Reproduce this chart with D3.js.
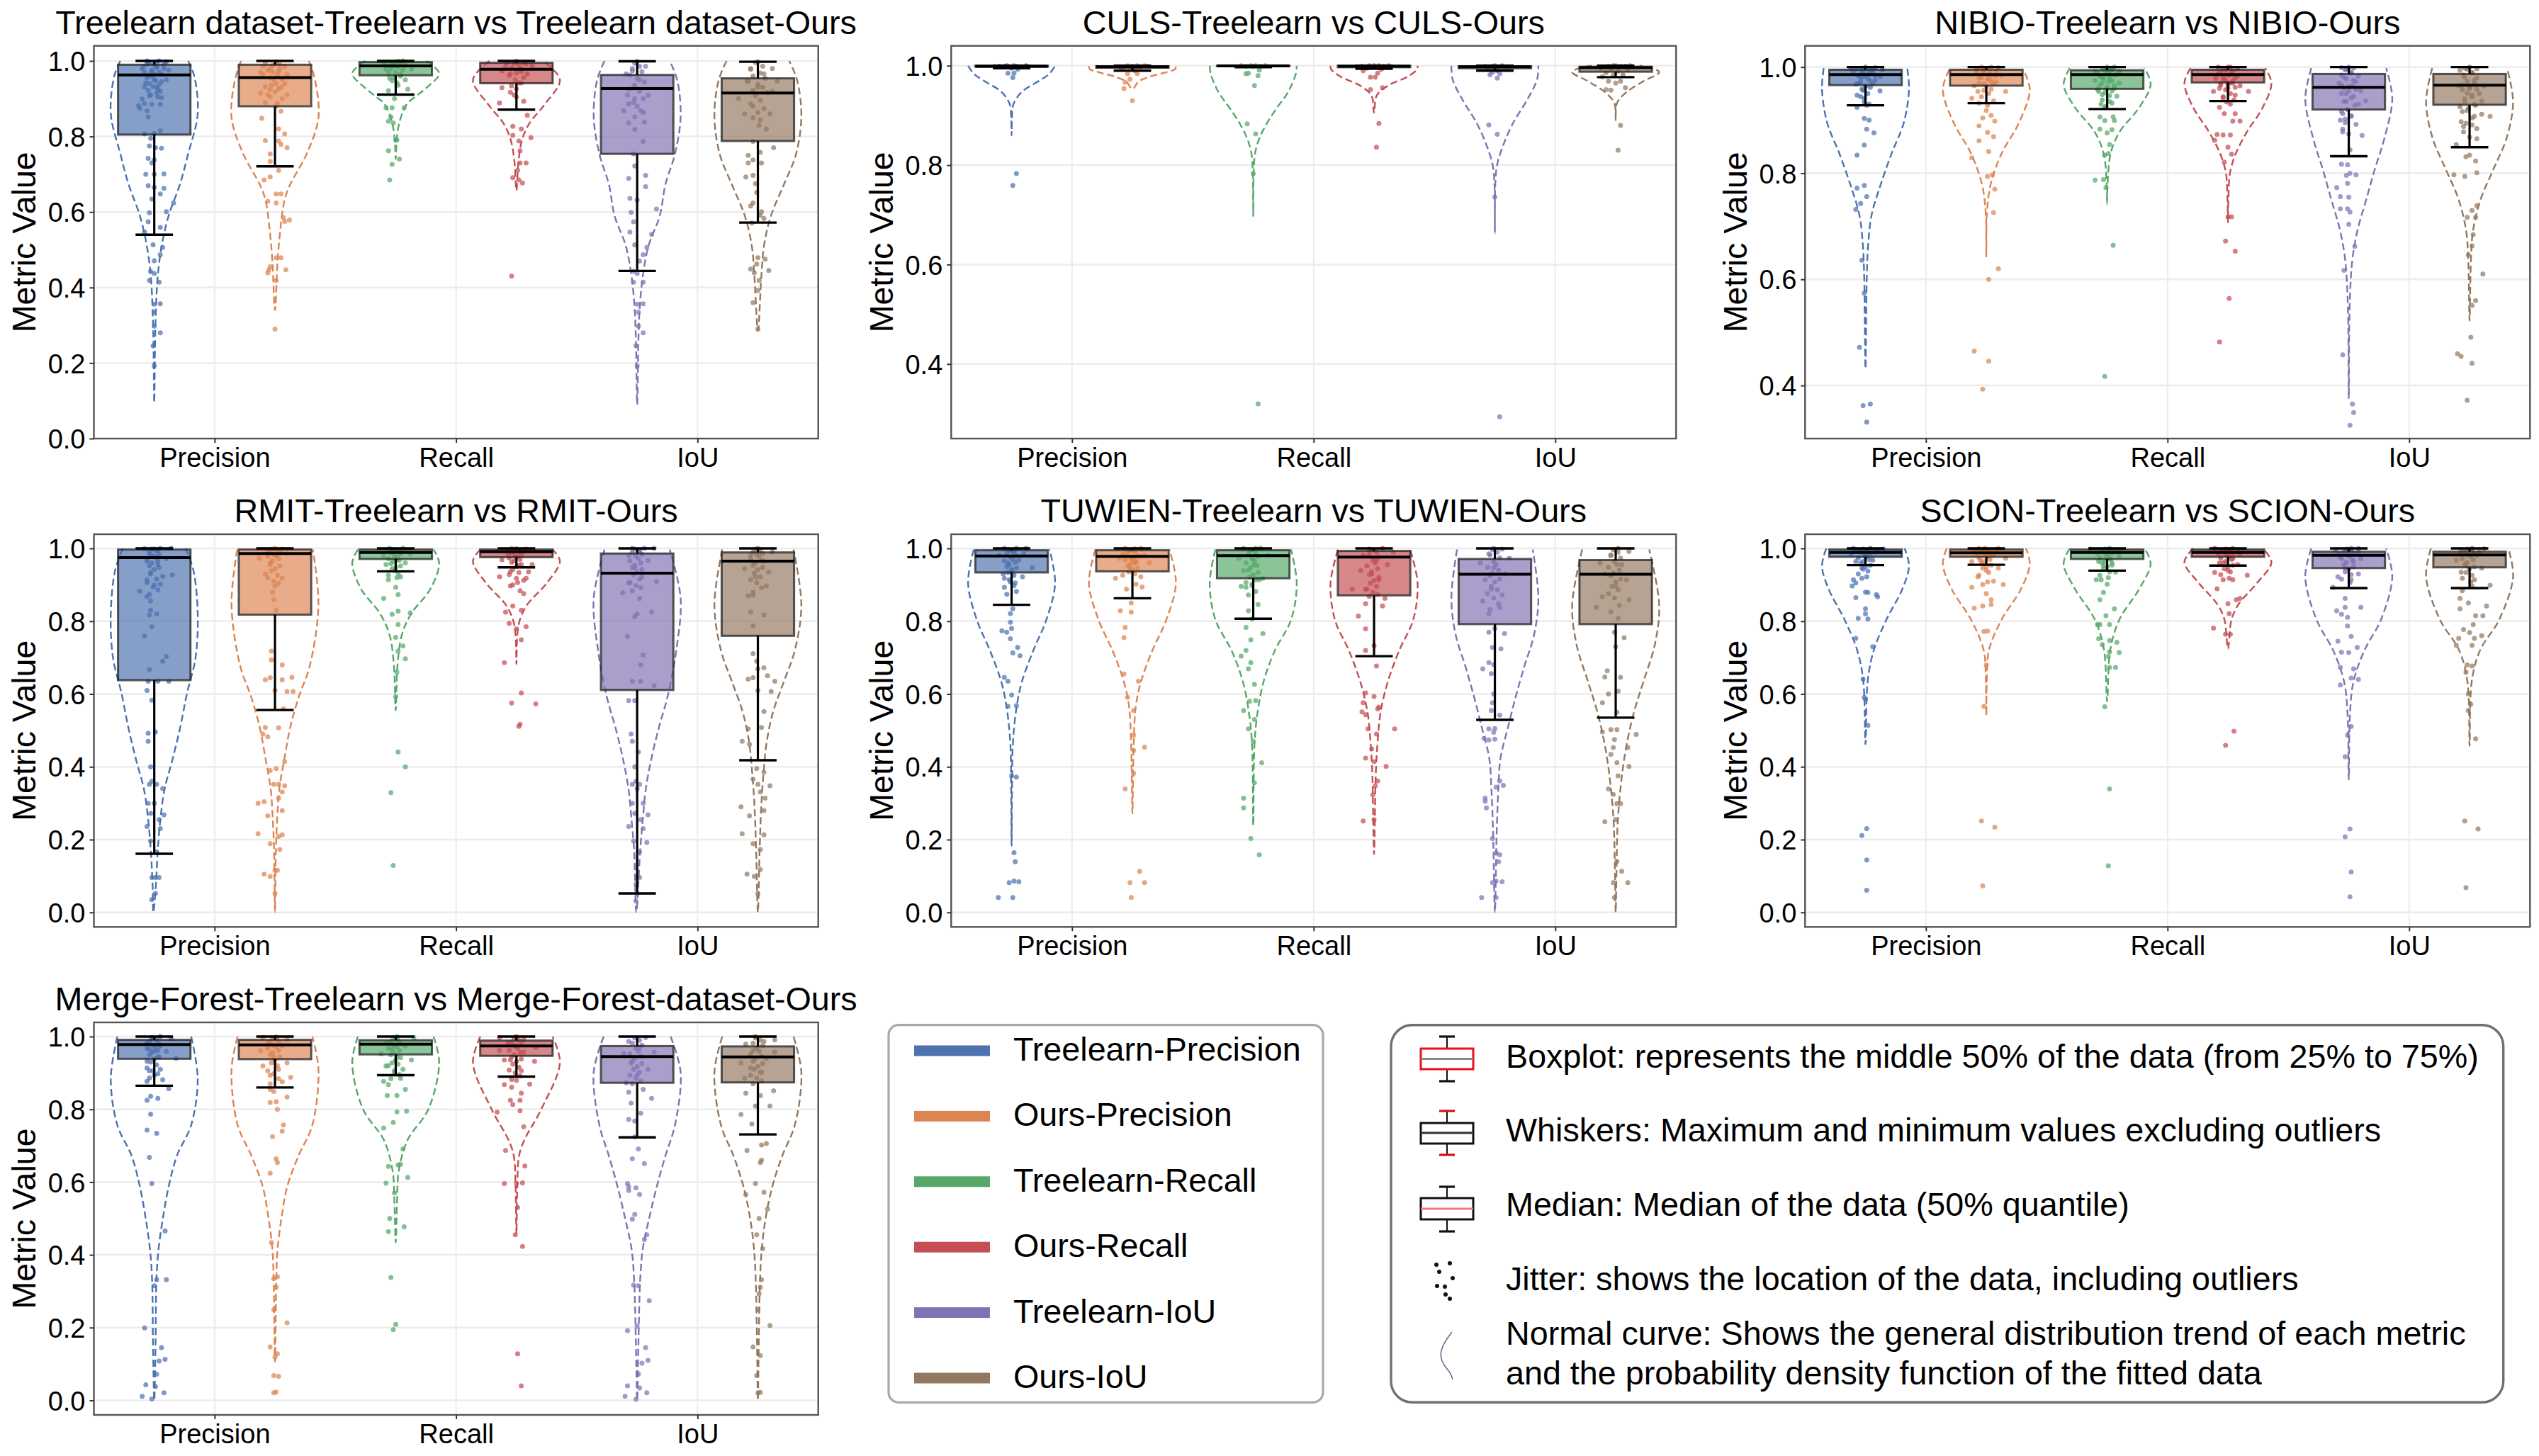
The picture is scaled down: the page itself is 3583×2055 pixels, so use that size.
<!DOCTYPE html>
<html><head><meta charset="utf-8">
<script src="https://cdn.jsdelivr.net/npm/d3@7"></script>
<style>html,body{margin:0;padding:0;background:#fff}svg{display:block}text{font-family:"Liberation Sans",Arial,sans-serif;fill:#000}</style>
</head><body><div id="c"></div>
<script>
const categories=["Precision","Recall","IoU"];
const seriesNames=["Treelearn-Precision","Ours-Precision","Treelearn-Recall","Ours-Recall","Treelearn-IoU","Ours-IoU"];
const seriesColors=["#4C72B0","#DD8452","#55A868","#C44E52","#8172B3","#937860"];
const panelTitles=["Treelearn dataset-Treelearn vs Treelearn dataset-Ours","CULS-Treelearn vs CULS-Ours","NIBIO-Treelearn vs NIBIO-Ours","RMIT-Treelearn vs RMIT-Ours","TUWIEN-Treelearn vs TUWIEN-Ours","SCION-Treelearn vs SCION-Ours","Merge-Forest-Treelearn vs Merge-Forest-dataset-Ours"];
const yDomains=[[0,1.04],[.25,1.04],[.3,1.04],[-.04,1.039],[-.04,1.039],[-.04,1.039],[-.04,1.039]];
const yTicks=[[0,.2,.4,.6,.8,1],[.4,.6,.8,1],[.4,.6,.8,1],[0,.2,.4,.6,.8,1],[0,.2,.4,.6,.8,1],[0,.2,.4,.6,.8,1],[0,.2,.4,.6,.8,1]];
// box statistics per series: whisker low, q1, median, q3, whisker high
const p1_stats=[[.54,.805,.963,.99,1],[.721,.88,.956,.99,1],[.911,.962,.987,.997,1],[.871,.941,.978,.995,1],[.444,.754,.927,.963,.999],[.572,.788,.915,.954,.998]];
const p2_stats=[[.995,.998,.999,1,1],[.99,.996,.998,.999,1],[.997,.999,.9995,1,1],[.994,.997,.999,1,1],[.99,.995,.998,.999,1],[.977,.988,.996,.998,1]];
const p3_stats=[[.928,.966,.986,.995,1],[.932,.965,.986,.995,1],[.921,.959,.986,.994,1],[.936,.971,.986,.995,1],[.832,.92,.962,.987,1],[.849,.929,.966,.987,1]];
const p4_stats=[[.161,.638,.975,.997,1],[.556,.818,.986,.997,1],[.937,.971,.989,.997,1],[.948,.976,.991,.997,1],[.052,.611,.932,.986,1],[.418,.76,.965,.989,1]];
const p5_stats=[[.845,.934,.979,.995,1],[.863,.937,.978,.995,1],[.807,.918,.98,.995,1],[.704,.871,.976,.993,1],[.529,.792,.929,.971,1],[.535,.792,.929,.968,1]];
const p6_stats=[[.954,.977,.989,.997,1],[.955,.977,.988,.997,1],[.939,.971,.989,.997,1],[.953,.977,.989,.997,1],[.891,.946,.981,.991,1],[.891,.948,.982,.991,1]];
const p7_stats=[[.865,.939,.978,.991,1],[.86,.938,.977,.991,1],[.894,.951,.979,.99,1],[.89,.947,.974,.989,1],[.723,.873,.945,.974,1],[.731,.874,.944,.973,1]];
// violin outline per series: metric value, relative half width, repeated
const p1_violin=[[1,.78,.96,.92,.86,1,.754,.78,.673,.59,.59,.33,.51,.17,.43,.08,.347,.04,.266,.02,.095,0],[1,.78,.95,.92,.85,1,.754,.73,.673,.35,.632,.22,.55,.12,.47,.06,.34,0],[1,.7,.967,1,.93,.72,.905,.45,.885,.25,.835,.08,.787,.02,.74,0],[1,.62,.95,1,.885,.65,.835,.3,.795,.14,.738,.05,.657,0],[1,.75,.95,.92,.852,1,.754,.87,.673,.65,.59,.52,.51,.26,.43,.13,.347,.06,.266,.03,.09,0],[1,.72,.95,.9,.856,1,.754,.88,.673,.6,.59,.3,.51,.14,.43,.08,.286,0]];
const p2_violin=[[1,1,.984,.87,.972,.68,.947,.23,.922,.04,.9,.01,.86,0],[.999,1,.993,.98,.987,.78,.978,.4,.968,.14,.953,0],[1,1,.984,.98,.947,.8,.916,.55,.885,.32,.854,.14,.823,.04,.786,.01,.697,0],[1,1,.993,.99,.978,.77,.96,.32,.94,.06,.91,.01,.905,0],[1,1,.972,.97,.928,.72,.885,.42,.842,.2,.8,.05,.762,.01,.663,0],[1,.55,.995,.85,.987,1,.969,.64,.947,.25,.925,.03,.89,0]];
const p3_violin=[[.998,.96,.958,1,.895,.88,.837,.6,.779,.35,.721,.14,.664,.06,.606,.03,.432,0],[.995,.85,.958,1,.895,.75,.837,.35,.779,.1,.721,.01,.643,0],[.998,.86,.967,1,.924,.74,.877,.28,.837,.08,.779,.01,.742,0],[.998,.86,.97,1,.924,.8,.877,.43,.837,.18,.802,.05,.75,.01,.707,0],[.998,.86,.941,1,.866,.82,.808,.6,.75,.4,.692,.2,.635,.08,.548,.02,.375,0],[.998,.86,.935,1,.866,.85,.808,.55,.75,.25,.692,.08,.635,.03,.522,0]];
const p4_violin=[[1,.72,.94,.9,.82,1,.7,.95,.6,.75,.51,.6,.42,.42,.34,.24,.255,.14,.17,.08,.08,.04,0,.02],[.997,.87,.846,1,.677,.8,.593,.55,.508,.35,.424,.22,.34,.1,.255,.05,.17,.02,0,0],[.997,.87,.96,1,.889,.8,.821,.36,.762,.14,.677,.04,.555,0],[.997,.83,.965,1,.905,.7,.846,.25,.804,.08,.762,.02,.682,0],[.997,.75,.863,1,.72,.9,.593,.7,.508,.5,.424,.33,.34,.2,.255,.13,.17,.07,0,.02],[.997,.82,.846,1,.72,.85,.635,.6,.551,.35,.466,.2,.382,.13,.297,.08,.17,.04,0,0]];
const p5_violin=[[.997,.87,.905,1,.804,.8,.72,.5,.635,.24,.568,.12,.466,.03,.34,.01,.183,0],[.997,.85,.905,1,.804,.78,.72,.46,.635,.2,.568,.08,.466,.03,.272,0],[.997,.87,.905,1,.804,.87,.72,.5,.635,.24,.55,.1,.466,.03,.238,0],[.997,.83,.905,1,.804,.9,.72,.58,.635,.32,.55,.15,.466,.08,.382,.04,.16,0],[.997,.87,.863,1,.762,.9,.677,.68,.593,.48,.508,.3,.424,.13,.34,.08,.213,.04,0,0],[.997,.77,.846,1,.736,.9,.635,.64,.55,.42,.466,.26,.382,.15,.255,.05,.128,.02,0,0]];
const p6_violin=[[1,.9,.952,1,.889,.85,.804,.48,.72,.19,.635,.05,.462,0],[1,.91,.958,1,.889,.8,.804,.35,.72,.06,.635,.01,.54,0],[1,.86,.958,1,.889,.74,.804,.28,.72,.07,.58,0],[1,.8,.962,1,.905,.67,.846,.24,.804,.08,.724,0],[1,.86,.922,1,.804,.74,.72,.36,.635,.11,.55,.03,.365,0],[1,.89,.922,1,.804,.68,.72,.24,.635,.05,.458,0]];
const p7_violin=[[1,.85,.885,1,.757,.85,.672,.52,.587,.33,.502,.2,.417,.1,.332,.05,.162,.03,0,0],[1,.86,.91,1,.757,.86,.672,.54,.587,.28,.502,.15,.417,.06,.332,.03,.106,0],[1,.87,.928,1,.8,.75,.715,.27,.63,.07,.545,.03,.434,0],[1,.83,.928,1,.8,.57,.715,.18,.672,.06,.587,.02,.455,0],[1,.77,.902,1,.757,.87,.672,.65,.587,.45,.502,.28,.417,.13,.332,.07,.162,.03,0,0],[1,.82,.902,1,.757,.85,.672,.56,.587,.33,.502,.18,.417,.09,.332,.05,.162,.02,0,0]];
// jitter points per series: sideways offset (hundredths of a category), metric value (percent), repeated
const p1_points=[
[0,19.3,-.5,24.6,2.5,28,0,29.8,0,33.5,0,35.6,2.5,35.7,-2,41.9,2,41.4,0,43.7,-1.5,44.3,0,47.1,2.5,48.7,3.5,50.6,-.5,51.3,2.5,55.9,-4,54.7,-2.5,57.4,5,60.1,-2,59.8,8,62.4,-1,63.4,2.5,64.8,4,66.3,-2.5,67,0,66.5,-3.5,70,0,70,4,70.1,-1,73,-2.5,74.2,0,73.8,3,76.9,.5,77,-2,77.5,-1.5,79.5,2.5,81.5,-4,80.7,0,80.8,-2.5,85.2,-3,86.8,2.5,88.5,-1,88.5,-4,88.7,-6.5,88.2,-6,87.5,-5,89.9,3,90.3,-2,90.8,-4,93.1,1,93,1.5,92.5,1,91.5,-2,94,-3,95.5,0,95,3,94.5,5,95,0,96.5,2,97,-1,97.5,-4.5,98.5,1,98.5,4,98,-2,99.5,2,100,-3,100,5,99.8,0,99,6,97.5],
[0,29,.5,41.9,-3,43.9,4.5,44.7,-2,45.5,-2.5,44.7,2.5,47.9,.5,47.9,6,57.9,3.5,58.5,4,57.5,.5,62.4,-3,62.8,.5,64.8,2.5,64.8,-4.5,68.5,-2,69.3,1.5,71,-2,73.4,5,77,2.5,77.9,-2,75.4,1.5,78.8,-4,78.9,4,80.7,1.5,82,-5.5,84.8,2.5,86.7,.5,88,-2,90.5,5,91,-6,91.5,1.5,92.5,-4,93.2,-.5,95,4,94,-5,96.5,1.5,97.3,-2,98,4,98.5,.5,99.8,-4,99.5,-6,97,2,99,-1,97],
[-2.5,68.5,-1.5,72.6,1.5,74,-3,76.2,.5,79.1,0,79,-1,83.6,-3,84,-2,85.2,3.5,87.6,-1.5,87.6,-4,87.6,-.5,90,5,92.5,-3,92.1,.5,94.2,4,95,-2.5,95.4,2,96.6,-4,97.8,6.5,97.8,-.5,98.7,3,100,-5,99.5,1,99.9,-2,99.5],
[-2,43,2.5,67.7,-1.5,69.1,1,68.5,.5,71,4,73,1.5,73,1.5,76.2,1,78.8,6,79.7,-1.5,80.3,2,82,-1.5,82.7,4.5,85.6,-7,88.9,0,90.5,3,89.3,-6,92.9,-2.5,91.7,2,94.2,4.5,96.6,-2.5,96.6,-6,97.4,6.5,98.7,0,99.9,3,99.5,-4,99.5,2,98],
[0,19.3,-.5,24.6,2.5,28,.5,29.8,.5,33.5,0,35.6,2.5,35.7,-1.5,41.4,2.5,41.4,0,43.7,-1.5,44.3,1,47,2.5,48.7,4,50.6,-1,51.3,6,54.1,-3,54.7,-1.5,57.4,8,60.8,-2.5,59.9,0,63.2,-3,63.6,3.5,66.7,-3.5,68.9,3.5,69.7,-1,72.2,-1.5,75.4,2.5,78.7,-1,81.9,-3.5,83.6,2.5,86.4,-5.5,86.8,-1,90,4.5,90.9,-3.5,92.5,1,95,-2,97.4,3.5,98.6,0,99.9,-4.5,96.6],
[0,29,-2,36,.5,41.9,0,39.2,4.5,44.5,-3,44.9,-1.5,43.9,-.5,46.2,3,47.5,0,47.9,-2.5,57.1,2.5,58.3,1,59.1,1.5,60.1,-2,62.4,-3,61.6,-.5,65.2,-1,67.5,-5,69.3,-2,69.7,1.5,73,-2,73.8,-4,73,1,75.8,-4,75,6.5,77,-2,78.7,3.5,82,-5.5,86,1,84.4,5,86,-2,88,-8,90,6,92,0,93,-4.5,94.7,8,94.7,2.5,96.6,-3,98,6,98,0,99.8]];
const p2_points=[
[2,78.3,.5,75.9,.5,97.6,-1.5,98.5,1,98.5,2.5,99.3,-3,99.9,-1,99.8,0,99.5,2,99.9,4,99.8,6,100,-2,100,-5,99.9,1,100],
[0,93,-3.5,95.4,-3,96.7,-1,97.3,2,98.4,-2,98.4,1,99,-4,99.5,3,99.5,-1,99.8,5,100,-2,100,2,100,0,99.9,-5,99.8,6,99.9],
[2,32,0,78.3,1,86.3,-2.5,88.3,.5,96,-2,98.5,-3,98.4,2.5,99.1,2,98,-1,100,1,100,3,99.9,-3,99.9,-5,100,5,100,0,99.9],
[1,83.6,2,88.4,-1.5,95.2,3.5,95.6,-1.5,97.7,.5,97.7,1.5,98.5,-4.5,99,3,99.3,-3,99.5,0,100,2,100,-2,100,4,99.9,-5,99.9,1,99.8,6,100],
[2,29.4,0,73.6,1,86.2,-2.5,88.1,1,97.5,-2,98.2,2,98.4,-1,98.7,1,99,-3,99.5,0,100,3,100,-1,99.9,5,99.8,-4,99.9],
[1,83,2,88,-2,95.1,4,95.6,-4,95.2,0,96.5,-3,96.9,2,96.9,-5.5,97.8,-1,98.1,3,98.2,-4,98.6,1,98.9,-2,99.3,5,99.2,-6,99.5,0,100,2,99.9,-3,99.9,4,99.9,6,100,-1,100]];
const p3_points=[
[.5,33.1,2,36.5,-1,36.2,-2.5,47.2,-.5,57.4,-1.5,63.6,-4,73.2,-2,74.3,.5,75.6,-3.5,77.2,-.5,77.7,-3.5,83.4,-.5,85.3,3.5,87.6,.5,88.3,1.5,90,-.5,90.3,-3.5,92.4,1.5,93,-.5,94.1,6,95.5,-1.5,95.8,-3.5,94.7,2,96.2,-4,96.8,-2,97.2,4,97.5,1,97.8,-3,98.4,6,98.2,-1,98.9,3,99,-5,99.2,2,99.6,-2,99.8,0,100,4,99.9,7,99.5,-6,99.7],
[-1.5,39.3,1,44.6,-5,46.5,1,60,5,62,3,72.6,3.5,77,2.5,79.7,.5,79.4,-6,82.9,1,84.1,-3,86.1,3,86.9,.5,87.7,-3,88.9,3.5,89.8,-1.5,90.4,2,90.9,0,91.8,-6,94.1,-3.5,95.4,8,95.4,2,95.8,-5,96.5,-1,96.8,4,97.2,1,97.6,-3,98,2,98.4,-1,98.8,6,98.5,4,99.2,-4,99.4,0,99.7,2,100,-2,100,-4,99.8,5,99.9],
[-1,41.7,2.5,66.4,-.5,77.3,-5,78.7,-1.5,78.8,.5,83.7,-1,83.4,1,85.4,0,87.6,-3,88.3,2,88.2,-1,89.9,3,89.9,-3,90.6,2.5,90.6,-1,92.4,-2.5,93,1,93.5,4,94.5,-2,94.8,2,95.5,-4,95.8,0,96,3,96.5,-2,97,5,97,-5,97.5,1,97.9,-3,98.3,3,98.5,0,98.9,-5,99.2,5,99.2,2,99.6,-2,99.8,0,100,3,100],
[-3.5,48.2,.5,56.4,3,65.3,-1,67.2,0,71.8,1.5,71.8,-1.5,82.1,1.5,83.6,0,84.9,-5.5,86.2,-2,87.2,1,87.2,-4.5,87.3,5,89.8,2,89.8,-1.5,91.2,3,91.2,-3.5,92.4,1,93,8.5,95.4,-6,95.4,3,94.7,-2,94.4,0,96,-3,96.6,5,96.5,2,97,-1,97.4,-5,97.9,3,98,0,98.5,-3,99,2,99.3,4,99.7,-2,99.8,0,100,-4,100,1,100],
[.5,32.5,2,34.9,1.5,36.5,-2.5,45.8,-2,61.7,2.5,66.2,0,70.4,.5,72.7,-3.5,73.3,-.5,73.3,0,75.5,-3.5,75.6,-.5,78.1,-5,77.3,-1,79.6,3,79.7,.5,80,-3,81.7,-.5,81.6,.5,84.4,5.5,87.1,-2.5,87.8,-1.5,89.5,-3.5,90,1,90.7,-2.5,91.2,4,93,7,93.6,-1,93.5,2,94.5,-3,95,0,95.5,5,95.5,-2,96,1.5,96.5,-4,97,3,97.3,-1,97.8,4,98.3,-3,98.5,1,99,-1.5,99.5,2,99.8,0,100,-3,99.9],
[-1,37.2,1,44.2,-5,46,-3.5,45.5,.5,49.1,2.5,56,1,55.1,5.5,61,-.5,64.6,1,66.3,1.5,68.4,-1,71.7,2.5,71.7,1,73,3,73.9,3,80.1,-6.5,79.7,-2,79.4,2.5,82.3,0,83.4,-1.5,83.1,-5.5,85.4,3,86.5,-2.5,88.8,1,89.1,2,90.7,8.5,90.7,5,91.1,-3.5,89.7,-1,91.8,-4,92.5,2,93,5,93.6,-2,94,1,94.7,4,95,-3,95.7,0,96,-4.5,96.5,2,96.9,6,96.5,-1,97.3,3,98,-2.5,98.5,1,99,-4,99.4,3,99.7,0,100,-2,99.8]];
const p4_points=[
[.5,5.2,-1,3.5,.5,9.6,-1,9.6,2,9.6,1,16.6,-1.5,19.6,2.5,23,-3,23.6,2,25.5,4,26.8,-1.5,27.2,0,30,-2.5,30,3.5,34,1,35.2,-2,35.2,-1,36,-1.5,40,-2.5,47,-2.5,49.2,.5,49.6,-1,58.3,-3,61,-2.5,63.5,1.5,63.5,6,63.5,-2,66.7,3.5,69,5,70.3,-4,75.9,-1,78.5,-2,81.7,1,82,-1.5,83,-1.5,85.6,-3,86.7,-6,88.3,0,90,2.5,90.2,-3,91.4,7.5,92.7,3.5,92.3,-1.5,93,1.5,95.6,-3,96.4,5,97.2,-2,98.5,1.5,99.3,-4,99.9,2.5,100,7,100,0,99.8],
[0,5.2,1,11.6,-4.5,10.5,-2,9.9,0,11.6,2,17.3,-2,18.9,3,21.3,-7,21.6,1.5,20.9,-3,26.5,3,28,-7,30,-4.5,30.4,1.5,31.4,3,33.1,4,34.8,-.5,35.2,1.5,35.2,-2,39,.5,39.5,4,41.4,-3,48.3,-5,49,1.5,50.7,-4,50.8,3.5,55.9,-4,63.9,-2,64.5,7,64.6,3,63.9,0,61,5,60.7,7.5,60.7,3,68,-1.5,69.4,-1.5,71.8,.5,83,-.5,85.9,0,89.7,-4,93,3,91.9,-2,95.6,-6.5,97.3,.5,98.2,5,98.6,-3,99.2,3,99.8,0,100],
[-1,12.9,-2,32.9,4,40,1,44.1,0,59.3,.5,66,4,69.7,3,73.2,1,71.8,0,75.6,1,79.1,6,82.3,1,82.8,-1.5,81.9,-5,86.3,1,87.3,0,89.3,-3,91.4,2,92.2,-.5,93.9,-4,95.6,4,96,.5,96.8,-5,98.1,6,98.5,-.5,99.2,3,100,-2.5,100,-1,99.7,1.5,99.4],
[1,51.1,1.5,51.7,8,57.3,-2,57.5,2,60.3,-5,68.6,2,74.9,0,77.9,4,78.5,-3,79.4,-4.5,82.5,2,83,-1.5,84.2,3,87.6,1.5,88.4,-2.5,89.7,4,91.8,0,91.8,-7,92.2,5,93.6,-2.5,93.6,1,95.3,-6,96.9,6.5,95.6,-3.5,98.5,3,99.2,0,99.9,4,99.8,-2,99.9],
[0,5.2,-.5,3.1,0,9.6,1,9.6,-.5,7.8,1,16.6,-1.5,19.6,4,19.2,2.5,23,-3.5,23.6,1.5,25.5,4.5,26.8,-1,27.2,-2,30,2.5,30,0,34,-2,35.2,1,35.2,-.5,36,-1,40,.5,44.1,-2,47,-2.5,49,-1,58.2,-3.5,58.2,1.5,63.5,-2,63.5,7,62.3,1.5,68,2.5,70.7,-4,75.8,-1,81.2,6,82.5,0,82,1,86.3,-6,87.8,8,90.9,-3.5,90.5,2,92.2,-1,94.6,4.5,96.7,-3.5,98,1,99.3,7,100,-2,100,3,100],
[0,5.2,1,11.8,-4.5,10.5,-1.5,9.9,1,17.3,-2,18.9,2.5,21.3,-6.5,21.6,-3.5,26.5,2.5,28,-7,29,3,31.4,1,33.1,5,34.8,0,35.2,2.5,38.5,-.5,39.5,-2,36.6,-3.5,46.2,-6.5,47,-4,50.4,1.5,50.8,2.5,55.2,0,61,5.5,60.7,2.5,67.2,7,63.5,-2,64.5,-4,64.1,4,65,0,66.9,-2,71.1,-.5,69,-2,78.7,2.5,81.7,-3,82.5,-2,87.1,-4,87,3.5,89.7,-1,92.2,4.5,93.5,-5.5,94.4,2.5,96.5,-3,98.1,6,99,0,100]];
const p5_points=[
[-5.5,4.1,.5,4.1,-1,8.2,1,8.6,3,8.4,1.5,13.9,1,16.4,2,37.2,0,37.5,-1.5,56.6,2,56.8,0,59.7,-3,64.6,-1.5,63.5,3.5,70.5,.5,71.3,2.5,72.8,-.5,75.2,-4,77.4,-2,77,0,78,-.5,79.7,-.5,82.1,.5,83.4,2,88.2,-3,89.3,1.5,90.5,-1,91.4,4.5,92.2,-3.5,93,0,93.9,8.5,94.7,-1.5,96,3,96.8,-5,98.1,5,98.5,0,99.3,6,100,-3,100,2,100],
[-.5,4.1,-1,8.2,5,8.2,3,11.3,-3,33.9,.5,38.2,5,45.4,.5,44.5,.5,48.7,.5,55.5,-2,59.1,2.5,63.5,-3.5,65.5,-3.5,75.5,-3,78.3,-.5,82.5,-5,82.9,-.5,85,-2.5,88.8,4,89.4,1.5,90.2,-7,91.8,3.5,92.2,-4,92.6,-1,94.7,7,96,1.5,96.4,-5.5,97.3,5,98.1,-1,99.3,3.5,100,-3,100,1,99.9],
[2.5,15.8,-1,20.3,-4,28.7,-4,31.4,.5,35.6,3.5,41.1,0,47,-2,50.4,.5,53,-4,55.5,-1.5,58,1,58.2,.5,62.7,-2,66.9,-1,68.6,-5,70.4,-3,72,-1,74.9,4,76.6,-3,78.3,-.5,80.6,2,84.6,-2,82.9,-3,89.3,-.5,90.2,2.5,91.4,-5,89.6,4,91.8,-4,93.9,.5,95.6,-6,97.3,6,98.1,-1.5,99.3,3,100,-4,100,1,100],
[0,25.5,-4.5,25.1,-.5,32.3,1.5,36.1,.5,34.8,5,40.1,-3.5,42.4,0,41.4,-1,44.9,8.5,50.4,-2.5,50.4,1,49,2,56.4,-3.5,54.3,1.5,55.9,-4.5,57.6,-5,55.1,0,59.3,-3.5,60.3,1,67.7,-3.5,72,0,73.3,-3.5,77.9,-6.5,81.4,3.5,84.2,-3.5,84.8,4.5,86.3,-3.5,88.8,-9,88.8,2,91.4,-1,93,-5.5,93.9,5.5,95.6,1,96.8,-4.5,98.1,8,99,-2,99.8,3.5,100],
[-5.5,4.1,.5,4.1,-1,8.2,.5,8.6,3,8.4,1.5,13.9,.5,16.4,2,15.8,-1,20.3,-3.5,28.7,-4,30.5,-4,31.4,3.5,34.9,2,36.1,.5,34.4,-2.5,47.4,-4.5,47.8,0,47.6,-.5,49.5,-2.5,50.4,0,50.5,2,54.2,-1.5,55.5,-1,57.6,-.5,60,-1.5,65.6,-5,66.9,-2.5,68.6,-.5,68.1,2.5,72.4,-1,72.8,4,76.6,-2.5,77,0,78,-2.5,82.1,2,83.8,-5,85.5,3,87.2,-1.5,88.8,-4,91.4,4,93,-.5,94.7,-6,96,6,97.3,-2.5,98.5,3,99.8,-.5,100],
[-.5,4.1,5,8.2,-1,8.2,2.5,11.3,.5,14,0,25.5,-4.5,24.9,.5,29.9,2,29.9,-1,32.4,-3,33.9,1,37.5,5.5,40.1,.5,41.1,-2,43.4,-1,45.3,5,45.3,8.5,48.9,-5.5,49.6,-2,50.2,.5,50.2,-.5,47.5,-5.5,57.6,-3,60,1,60.8,-4.5,64.7,-3.5,66.4,2,64.6,.5,55,0,73,3.5,75.5,-.5,77,-8,83.8,1,80.8,5.5,85.9,-5.5,86.7,0,89.7,4.5,91.4,-4.5,93,2.5,95.6,-6.5,96,-2,98,5.5,99.2,1,100]];
const p6_points=[
[.5,6.1,.5,14.4,-1.5,21.1,.5,23,1,51.4,0,58.6,-.5,59.1,-1,64.1,3,73,-4,75.3,-3,80.8,1,80.6,0,82,0,83.4,5,86.7,4.5,87.3,-4,86.5,0,88,1,87.9,-5.5,89.7,-4,90.5,-1.5,91.8,-5,91.4,-1,94.3,-4,96.4,3,96.8,0,97.7,-6,98.5,5,99.2,-2.5,99.2,2,100,-5,100,0,99.5,7.5,99.8],
[-1.5,7.3,3.5,23.4,-2,25.1,-1,56.6,0,68,-1,77.2,.5,77.3,-5,83.6,-1.5,84.2,2,84.6,2,85.9,0,87.6,-6,89.3,7,90.1,-1.5,90.1,3,91,-3.5,92.2,5,94.6,0,93.9,-6,96.4,8,97.3,-2.5,96.8,3,98.1,-5,99.4,-.5,100,5,100,1,99.5,-3,100],
[.5,12.8,1,33.9,-1,56.5,1,67.3,3.5,67.3,5,71.4,1,71.6,.5,70.3,4,74.2,-3.5,75.2,1,74.7,-2,73.6,-3,79.1,-4,79.1,1,79.1,-.5,81.5,3,83.4,-3,85.9,-1.5,87.9,0,90.2,-4.5,91.4,-2.5,91.4,3.5,93.5,-1.5,95.2,-3.5,96.4,2,96,5,98.1,-2.5,99.4,1,100,-7,99.8],
[-1,45.9,2.5,49.8,-6,78.1,1,76.4,-1,76.4,.5,82.1,0,84.8,3.5,85.9,5,86.3,-4.5,88.9,-2,91.4,2,91.4,8,92.6,-5.5,93.4,0,93.9,4,95.6,-3.5,96,2,97.3,5,98.5,-2.5,99.4,2,100,-5.5,100,0,99.7,-1,98.8],
[.5,4.3,1,11.1,-1.5,20.8,.5,22.9,-1.5,42.8,-.5,48.7,1,51.1,-3.5,62.5,1,64.4,4,64,2,66.9,-3.5,67.3,-3,71.5,0,71.4,3.5,72.8,1,75.8,-4.5,74.5,-.5,78.7,-5,82.9,-3,81.9,-.5,81.1,5,83.8,-1.5,83.8,-1.5,86.3,-6.5,89.3,1,91.4,-4.5,92.2,4,93,-1.5,94.6,2,96.3,-3.5,97.6,5,97.2,0,99.4,-5.5,99.4,4,100,1,100],
[-1.5,6.8,3.5,22.9,-2,25.1,2.5,47.7,-.5,55.5,.5,57.2,-.5,60,-1.5,66,-1,68,1,67.7,-5.5,73.4,1,73.4,-4.5,75.3,2,75.3,5,76,0,76.9,-2.5,77.7,1.5,79.1,-4,83.4,2.5,81.5,5.5,81.5,7,84.2,-.5,85,-4,86.3,8.5,89.9,-3,88.4,1,89.7,2,91.4,-3.5,93.5,5,94.6,-1.5,95.4,-5.5,96.8,3,98.1,-3.5,99.4,1,100,6,99.9]];
const p7_points=[
[-1,.4,-5,1.1,4,2.1,.5,3.8,-3.5,4.3,1,7.2,2,10.8,4.5,11.3,3,14.5,-4,19.9,5,33.2,1,33.2,0,31.5,4.5,46.6,-1,59.6,-2,66.8,1,73.4,-3,74.3,-1.5,78.7,-1.5,83.6,1.5,83,-3,82.5,6,85.7,-3,87.7,3.5,88.1,0,89.4,-2,90.6,2.5,91,9,94,-3,93.2,1.5,94.4,5,95.9,-2,96.5,2.5,97.4,-3,98.2,7,99.4,-1,99.7,2.5,100,0,96],
[-.5,2.1,.5,2.3,1.5,6.6,-.5,6.8,1,12.8,0,11.9,-2,14.7,5,21.3,-.5,24.9,.5,31.1,1,34,-.5,33.5,-1.5,43.4,-2,62.4,1,65.4,.5,66.4,3,74,-1,72.5,3.5,75.7,1,80,.5,82.1,-2,81.9,5,83.4,-.5,84.9,-2,85.5,6.5,88.8,3,87.6,-2,89.4,1.5,91,-5,91.9,5,92.8,-.5,94.5,-6,96.1,3,97.4,-3,98.2,5,99.1,.5,99.9,-5,99.7],
[0,20.9,-1,19.4,-2,33.8,3.5,47.7,-3,46.4,-2.5,50,-.5,57,5,61.3,-4,59.7,1,64.7,-3,64.3,2,64.9,3,69.1,-1,76.4,-5,74.9,.5,79.3,4.5,79.5,-3.5,83.8,.5,83.8,4,85.5,-3,86.8,2,88.5,-5,87.7,-.5,90.2,3,91,-4,91.9,6.5,93.6,.5,94.5,-6,95.3,-1.5,96.6,4,97.4,-4,98.3,.5,100,7.5,99.7],
[2,4,.5,12.8,2.5,42.3,-.5,45.5,.5,53,3.5,64.4,-5,59.6,0,59.6,2.5,59.8,-4.5,68.7,3,75.2,1.5,79.6,-8,79.2,-1.5,81.3,1.5,82.5,-2.5,82.5,2,84.4,-5,86.8,5.5,86.9,-2,86.1,0,88,2,90.6,-5,93.6,7.5,93.2,-2.5,93.6,3,95.7,-7,96.2,0,97.4,8,97,-3.5,98.3,3,99.1,0,100,-7,99.7],
[-.5,.3,-5,1.1,4,2.1,1,3.4,-4,4,.5,7.2,2,10.2,4.5,11,3.5,14.5,-4,19.2,0,20.4,5,27.4,-1.5,31.7,.5,31.5,4,45.5,3,44.2,-1,51.1,-2,49.8,1,56.6,-3.5,57.7,-.5,58.4,-4,59.6,-3.5,58.7,3,65.1,-2,66.4,.5,69.1,-1,72.4,-1,76.8,-3.5,77.2,1.5,78.9,-2.5,81.7,6,83,-3.5,84.7,2.5,85.5,-4.5,87.3,0,89.4,4.5,91,-2.5,92.8,-5.5,95.3,7,95.7,1,97,-3.5,98.7,3.5,99.7],
[1,2.2,0,2.1,-.5,6.8,1,12.3,-2,14.7,5,20.6,0,24.9,.5,29.3,1,31.1,1.5,33.2,2,41.7,-.5,45.5,.5,50,4,52.6,2.5,57.2,-5,56.6,-1,59.6,1,65.4,1.5,66,-4.5,68.7,1.5,70.2,3.5,70.6,-2.5,76,-7,78.6,-1,80.9,5,80.9,-5,84.4,1,83.8,6.5,85.1,-5.5,88.5,1.5,90.2,-3,91.4,7,95.7,-7,92.8,3.5,94,-2,96.2,-5,97.9,2.5,98.7,7,99.1,-1,100]];
// further jitter points in the crowded upper part of each violin, same layout
const p1_dense=[
[-3,99.2,1,98.2,-1,97,3,96.5,-2.5,96.2,.5,94.8,2,93.7,-.5,93.2,1.5,90.5,-2.5,92.2,4,99,-5,98,-3.5,94.2,2.5,92,-1,96,1,99.7,-1.5,91,-4,97],
[-1,98.8,2,97.8,-3,97.5,1,96.2,-2,95.5,3,95.2,.5,94,-1.5,93.6,2.5,93,0,91.8,-3,91,3,90,-4,89,1,88.8,5,96.4,-5,98.6,.5,99.4,-2,92.4],
[-1,99.2,1,98.4,-2,98,3,97.6,0,97,-3,96.8,2,96,-.5,95.6,-1.5,94.8,1,93.6,0,99.6,-4,98.8,4,98.8,2,99.4],
[-1,99.4,1,98.8,-2,98.2,2,97.2,0,96.8,-3,96.2,3,95.6,-.5,95,1,94.2,-2,93.4,0,92.6,-1,91,4,99.2,-4.5,98.4],
[-1,99.4,1,98.6,-2,98,2,97.2,-3,96.2,0,95.4,3,94.4,-1,93.6,-2,92.8,1,92,-4,91,2.5,90,-1.5,89,0,88,-3.5,88.6,1.5,86.8,-1,85.2,3,83.8],
[-1,99.6,2,98.6,-3,97.8,1,96.8,-2,96,3,95.4,-4,94.6,0,93.8,2,93,-2,92.2,4,91.6,-1,90.8,1,89.6,-3,88.6,2.5,87.4,0,86.4,-2,85,.5,83]];
const p3_dense=[
[-1,99.4,1,98.6,-2,98,2,97.4,-3,97,0,96.4,3,96.9,-1,95.6,1,95,-2,94.4,-.5,93.4,.5,92.8,4,98.4,-4,99.6,1.5,99.2,-1.5,99,3,99.6,-.5,98.2],
[-1,99.4,1,98.6,-2,98,2,97.4,-3,97,0,96.4,3,96.9,-1,95.6,1,95,-2,94.4,3,93.6,-3,93.2,.5,92.8,4,98.4,-4,99.2,1.5,99,-1.5,98.9,.5,97.8],
[-1,99.4,1,98.6,-2,98,2,97.4,-3,96.6,0,96.2,3,96,-1,95.2,1,94.6,-2,93.8,2,93.2,-.5,92.6,4,98.6,-4,99,1.5,99.4,-1.5,97.8,.5,97.2,-3.5,95.4],
[-1,99.4,1,98.6,-2,98,2,97.4,-3,97,0,96.7,3,96.2,-1,95.7,1,95,-2,94.2,2.5,93.8,-.5,93.4,4,98.4,-4,98.8,1.5,99.2,-1.5,97.6,.5,97,-3.5,96],
[-1,99.6,1,98.9,-2,98.1,2,97.5,-3,96.6,0,96.3,3,95.8,-1,95,1,94.2,-2,93.5,2.5,92.8,-.5,92,-3,91.6,1,90.8,-1.5,90.2,3,89.2,-2.5,88.3,0,87.4],
[-1,99.6,1,98.9,-2,98.1,2,97.5,-3,96.6,0,96.2,3,95.8,-1,95.1,1,94.4,-2,93.4,2.5,92.8,-.5,92.2,-3,91.6,1,90.4,-1.5,89.4,3,88.4,-2.5,87.8,0,86.8]];
const p4_dense=[
[-1,99.8,1,99.4,-2,99,2,98.4,-.5,98,.5,97.6,-3,97,1.5,96.6,-1,96,-2,95.2,2,94.8,0,94.2,-1.5,93.4,1,91.6,-3,90.6,-.5,89.4,1.5,88.6,-2,87.4],
[-1,99.8,1,99.6,-2,99,2,98.8,-.5,98.4,.5,98,-3,97.8,1.5,97.2,-1,96.6,-2,96,2,95.2,0,94.4,-1.5,93.8,1,92.6,-3,92,-.5,91,1.5,90.4,-1,88],
[-1,99.6,1,99.2,-2,98.8,2,98.4,-.5,98,.5,97.6,-3,97.2,1.5,96.8,-1,96.4,-2,95.8,2,95.2,0,94.8,-1.5,94.4,1,93.2,-3,92.6,.5,92],
[-1,99.6,1,99.2,-2,98.8,2,98.4,-.5,98,.5,97.8,-3,97.4,1.5,97,-1,96.6,-2,96.2,2,95.6,0,95,-1.5,94.2,1,93.4,-3,92.8,.5,90.6,3,91.2,-1.5,90],
[-1,99.8,1,99.4,-2,99,2,98.4,-.5,97.8,.5,97.2,-3,96.6,1.5,96,-1,95.4,-2,94.8,2,94.2,0,93.4,-1.5,92.8,1,91.6,-3,90.6,-.5,89.8,1.5,89.2,-2,88.4],
[-1,99.8,1,99.4,-2,99,2,98.6,-.5,98.2,.5,97.8,-3,97.2,1.5,96.6,-1,96,-2,95.4,2,94.8,0,94.2,-1.5,93.2,1,92.2,-3,91.4,-.5,90.6,1.5,89.2,-2,88]];
const p5_dense=[
[-1,99.6,1,99,-2,98.6,2,98,-.5,97.6,.5,97,-3,96.6,1.5,96.2,-1,95.6,-2,95,2,94.6,0,94.2,-1.5,93.4,1,92.6,-3,91.8,-.5,90.8,1,89.8,-2,87.4],
[-1,99.6,1,99,-2,98.6,2,98,-.5,97.6,.5,97.2,-3,96.8,1.5,96.2,-1,95.6,-2,95.2,2,94.6,0,94.2,-1.5,93.6,1,93,3,97.8,-4,98.4,-.5,97,.5,96],
[-1,99.6,1,99,-2,98.4,2,97.8,-.5,97.2,.5,96.6,-3,96,1.5,95.4,-1,94.8,-2,94,2,93.4,0,92.8,-1.5,92.2,1,91.4,-3,90.6,-.5,89.8,1,88.2,-2,87.2],
[-1,99.6,1,99,-2,98.4,2,97.6,-.5,96.8,.5,96,-3,95.2,1.5,94.4,-1,93.6,-2,92.8,2,92,0,91.2,-1.5,90.4,1,89.6,-3,88.8,-.5,88,1.5,87.4,-2,86.8],
[-1,99.6,1,99,-2,98.2,2,97.4,-.5,96.4,.5,95.6,-3,94.8,1.5,94,-1,93.2,-2,92.4,2,91.6,0,90.8,-1.5,89.6,1,88.6,-3,87.6,-.5,86.4,1.5,84.8,-2,83.2],
[-1,99.6,1,99,-2,98.2,2,97.4,-.5,96.4,.5,95.6,-3,94.8,1.5,94,-1,93.2,-2,92.4,2,91.6,0,90.8,-1.5,89.6,1,88.6,-3,87.6,-.5,86.4,1.5,84.4,-2,82.6]];
const p6_dense=[
[-1,99.8,1,99.4,-2,99,2,98.6,-.5,98.2,.5,97.8,-3,97.4,1.5,97,-1,96.4,-2,96,2,95.4,0,95,-1.5,94.6,1,93.8,-3,93,.5,92.2,-4,99.6,4,99],
[-1,99.8,1,99.4,-2,99,2,98.6,-.5,98.2,.5,97.8,-3,97.4,1.5,97,-1,96.4,-2,96,2,95.4,0,95,-1.5,94.6,1,93.4,-3,92.6,.5,90.8,4,99,-4,98.6],
[-1,99.8,1,99.4,-2,99,2,98.6,-.5,98.2,.5,97.8,-3,97.4,1.5,97,-1,96.4,-2,96,2,95.4,0,95,-1.5,94.4,1,93.6,-3,92.6,.5,92,4,99,-4,98.6],
[-1,99.8,1,99.4,-2,99,2,98.6,-.5,98.2,.5,97.8,-3,97.4,1.5,97,-1,96.4,-2,96,2,95.4,0,95,-1.5,94.4,1,93.6,-3,92.8,.5,91.8,4,99,-4,98.6],
[-1,99.8,1,99.4,-2,99,2,98.6,-.5,98.2,.5,97.8,-3,97.2,1.5,96.8,-1,96.2,-2,95.6,2,95,0,94.4,-1.5,93.6,1,92.8,-3,91.6,.5,90.6,4,99,-4,98.4],
[-1,99.8,1,99.4,-2,99,2,98.6,-.5,98.2,.5,97.8,-3,97.2,1.5,96.8,-1,96.2,-2,95.6,2,95,0,94.4,-1.5,93.4,1,92.6,-3,91.8,.5,90.8,4,99,-4,98.4]];
const p7_dense=[
[-1,99.6,1,99,-2,98.6,2,98,-.5,97.6,.5,97.2,-3,96.8,1.5,96.2,-1,95.6,-2,95,2,94.4,0,93.8,-1.5,93,1,92.2,-3,91.4,-.5,90.6,1.5,89.8,-2,88.6],
[-1,99.6,1,99,-2,98.6,2,98,-.5,97.6,.5,97.2,-3,96.8,1.5,96.2,-1,95.6,-2,95,2,94.4,0,93.6,-1.5,92.8,1,92,-3,90.6,-.5,89.8,1.5,88.4,-2,87],
[-1,99.6,1,99,-2,98.6,2,98,-.5,97.6,.5,97.2,-3,96.8,1.5,96.2,-1,95.6,-2,95,2,94.2,0,93.6,-1.5,92.8,1,92.4,-3,92,-.5,90.6,1.5,89.6,-2,88.4],
[-1,99.6,1,99,-2,98.4,2,97.8,-.5,97.4,.5,96.8,-3,96.2,1.5,95.6,-1,95,-2,94.4,2,93.8,0,93.2,-1.5,92.4,1,91.6,-3,90.8,-.5,90,1.5,89.2,-2,88.2],
[-1,99.6,1,99,-2,98.2,2,97.6,-.5,96.8,.5,96,-3,95.2,1.5,94.6,-1,94,-2,93.2,2,92.6,0,91.8,-1.5,91,1,90.2,-3,89.4,-.5,88.6,1.5,87.8,-2,87],
[-1,99.6,1,99,-2,98.2,2,97.6,-.5,96.8,.5,96,-3,95.2,1.5,94.6,-1,94,-2,93.2,2,92.6,0,91.8,-1.5,91,1,90.2,-3,89.4,-.5,88.6,1.5,87.8,-2,87]];
const noteLines=["Boxplot: represents the middle 50% of the data (from 25% to 75%)","Whiskers: Maximum and minimum values excluding outliers","Median: Median of the data (50% quantile)","Jitter: shows the location of the data, including outliers","Normal curve: Shows the general distribution trend of each metric","and the probability density function of the fitted data"];

const allStats=[p1_stats,p2_stats,p3_stats,p4_stats,p5_stats,p6_stats,p7_stats];
const allViolins=[p1_violin,p2_violin,p3_violin,p4_violin,p5_violin,p6_violin,p7_violin];
const allPoints=[p1_points,p2_points,p3_points,p4_points,p5_points,p6_points,p7_points];
const allDense=[p1_dense,null,p3_dense,p4_dense,p5_dense,p6_dense,p7_dense];

const W=3583,H=2055;
const colX=[[132.5,1154.7],[1342.3,2365.3],[2547.3,3570.3]];
const rowY=[[64.7,619],[754,1308.3],[1443,1997]];
const titleBase=[48,737,1426];
const labelX=[35,1245,2450];
const pairs=a=>d3.range(0,a.length,2).map(i=>[a[i],a[i+1]]);
const svg=d3.select("#c").append("svg").attr("width",W).attr("height",H).attr("viewBox",[0,0,W,H]);
svg.append("rect").attr("width",W).attr("height",H).attr("fill","#fff");

const groupOffset=[-.25,.25];
const boxW=.3,capW=.155,violinHalf=.18;

panelTitles.forEach((title,pi)=>{
  const col=pi%3,row=Math.floor(pi/3);
  const [x0,x1]=colX[col],[y0,y1]=rowY[row];
  const x=d3.scaleLinear().domain([-.5,2.5]).range([x0,x1]);
  const y=d3.scaleLinear().domain(yDomains[pi]).range([y1,y0]);
  const g=svg.append("g");
  g.selectAll(null).data(yTicks[pi]).join("line").attr("x1",x0).attr("x2",x1).attr("y1",d=>y(d)).attr("y2",d=>y(d)).attr("stroke","#ececec").attr("stroke-width",2.5);
  g.selectAll(null).data(categories).join("line").attr("x1",(d,i)=>x(i)).attr("x2",(d,i)=>x(i)).attr("y1",y0).attr("y2",y1).attr("stroke","#ececec").attr("stroke-width",2);
  seriesNames.forEach((s,si)=>{
    const c=Math.floor(si/2)+groupOffset[si%2];
    const color=seriesColors[si];
    const prof=pairs(allViolins[pi][si]);
    const line=d3.line().curve(d3.curveCatmullRom.alpha(.5)).x(d=>x(c+d[1]*violinHalf*d[2])).y(d=>y(d[0]));
    const outline=[...prof.map(d=>[d[0],d[1],-1]),...prof.slice(0,-1).reverse().map(d=>[d[0],d[1],1])];
    g.append("path").attr("d",line(outline)).attr("fill","none").attr("stroke",color).attr("stroke-width",2.4).attr("stroke-dasharray","10,5");
    const [lo,q1,med,q3,hi]=allStats[pi][si];
    g.append("rect").attr("x",x(c-boxW/2)).attr("width",x(boxW)-x(0)).attr("y",y(q3)).attr("height",Math.max(y(q1)-y(q3),.5)).attr("fill",color).attr("fill-opacity",.68);
    const pts=pairs(allPoints[pi][si]).concat(allDense[pi]?pairs(allDense[pi][si]):[]);
    g.selectAll(null).data(pts).join("circle").attr("cx",d=>x(c+d[0]/100)).attr("cy",d=>y(d[1]/100)).attr("r",3.5).attr("fill",color).attr("fill-opacity",.72);
    g.append("rect").attr("x",x(c-boxW/2)).attr("width",x(boxW)-x(0)).attr("y",y(q3)).attr("height",Math.max(y(q1)-y(q3),.5)).attr("fill","none").attr("stroke","#222").attr("stroke-opacity",.75).attr("stroke-width",3);
    g.append("line").attr("x1",x(c)).attr("x2",x(c)).attr("y1",y(lo)).attr("y2",y(q1)).attr("stroke","#000").attr("stroke-width",3.2);
    g.append("line").attr("x1",x(c)).attr("x2",x(c)).attr("y1",y(q3)).attr("y2",y(hi)).attr("stroke","#000").attr("stroke-width",3.2);
    [lo,hi].forEach(v=>g.append("line").attr("x1",x(c-capW/2)).attr("x2",x(c+capW/2)).attr("y1",y(v)).attr("y2",y(v)).attr("stroke","#000").attr("stroke-width",3.4));
    g.append("line").attr("x1",x(c-boxW/2)).attr("x2",x(c+boxW/2)).attr("y1",y(med)).attr("y2",y(med)).attr("stroke","#000").attr("stroke-width",4);
  });
  g.append("rect").attr("x",x0).attr("y",y0).attr("width",x1-x0).attr("height",y1-y0).attr("fill","none").attr("stroke","#555").attr("stroke-width",2.4);
  const ax=g.append("g").attr("transform",`translate(0,${y1})`).call(d3.axisBottom(x).tickValues([0,1,2]).tickFormat(i=>categories[i]).tickSize(6).tickPadding(19));
  ax.select(".domain").remove();
  ax.selectAll("line").attr("stroke","#333").attr("stroke-width",2);
  ax.selectAll("text").attr("font-size",38).attr("dy",0).attr("y",40);
  const ay=g.append("g").attr("transform",`translate(${x0},0)`).call(d3.axisLeft(y).tickValues(yTicks[pi]).tickFormat(d3.format(".1f")).tickSize(6).tickPadding(6));
  ay.select(".domain").remove();
  ay.selectAll("line").attr("stroke","#333").attr("stroke-width",2);
  ay.selectAll("text").attr("font-size",38).attr("dy","0.36em");
  g.append("text").attr("x",(x0+x1)/2).attr("y",titleBase[row]).attr("text-anchor","middle").attr("font-size",46.7).text(title);
  g.append("text").attr("transform",`translate(${labelX[col]+15},${(y0+y1)/2}) rotate(-90)`).attr("text-anchor","middle").attr("font-size",46.5).text("Metric Value");
});

// series legend
const lg=svg.append("g");
lg.append("rect").attr("x",1254).attr("y",1446.7).attr("width",613).attr("height",532.6).attr("rx",14).attr("fill","#fff").attr("stroke","#a8a8a8").attr("stroke-width",3.2);
const legendY=d3.scalePoint().domain(seriesNames).range([1483,1945]);
seriesNames.forEach((s,i)=>{
  lg.append("rect").attr("x",1290).attr("width",107).attr("y",legendY(s)-7.5).attr("height",15).attr("fill",seriesColors[i]);
  lg.append("text").attr("x",1430).attr("y",legendY(s)+14).attr("font-size",46.7).text(s);
});

// explanation legend
const ng=svg.append("g");
ng.append("rect").attr("x",1963).attr("y",1446.7).attr("width",1569.7).attr("height",532.6).attr("rx",30).attr("fill","#fff").attr("stroke","#707070").attr("stroke-width",3.4);
const noteBase=[1506.5,1610.5,1715.5,1820.5,1898,1954];
noteLines.forEach((t,i)=>ng.append("text").attr("x",2125).attr("y",noteBase[i]).attr("font-size",46.7).text(t));
const iconX=2042;
function icon(top,boxTop,med,boxBot,bot,boxCol,capCol,medCol){
  const hw=37,cap=11;
  ng.append("line").attr("x1",iconX).attr("x2",iconX).attr("y1",top).attr("y2",bot).attr("stroke","#111").attr("stroke-width",2);
  ng.append("rect").attr("x",iconX-hw).attr("width",hw*2).attr("y",boxTop).attr("height",boxBot-boxTop).attr("fill","#fff").attr("stroke",boxCol).attr("stroke-width",3);
  ng.append("line").attr("x1",iconX-hw).attr("x2",iconX+hw).attr("y1",med).attr("y2",med).attr("stroke",medCol).attr("stroke-width",3);
  [top,bot].forEach(v=>ng.append("line").attr("x1",iconX-cap).attr("x2",iconX+cap).attr("y1",v).attr("y2",v).attr("stroke",capCol).attr("stroke-width",3.2));
}
icon(1463,1480,1494.5,1509,1526,"#e8101a","#111","#888");
icon(1568,1585,1599,1614,1630,"#111","#d4101a","#333");
icon(1675,1691,1706,1721,1738,"#111","#111","#f07a7a");
const jitterKey=[[-15,1785],[4,1783],[-11,1795],[8,1804],[-14,1815],[-3,1816],[-2,1827],[4,1833]];
ng.selectAll(null).data(jitterKey).join("circle").attr("cx",d=>iconX+d[0]).attr("cy",d=>d[1]).attr("r",3).attr("fill","#111");
ng.append("path").attr("d",d3.line().curve(d3.curveBasis)([[2049,1880],[2039,1893],[2031,1911],[2037,1927],[2047,1937],[2050,1947]])).attr("fill","none").attr("stroke","#5a6a80").attr("stroke-width",1.5);
</script></body></html>
